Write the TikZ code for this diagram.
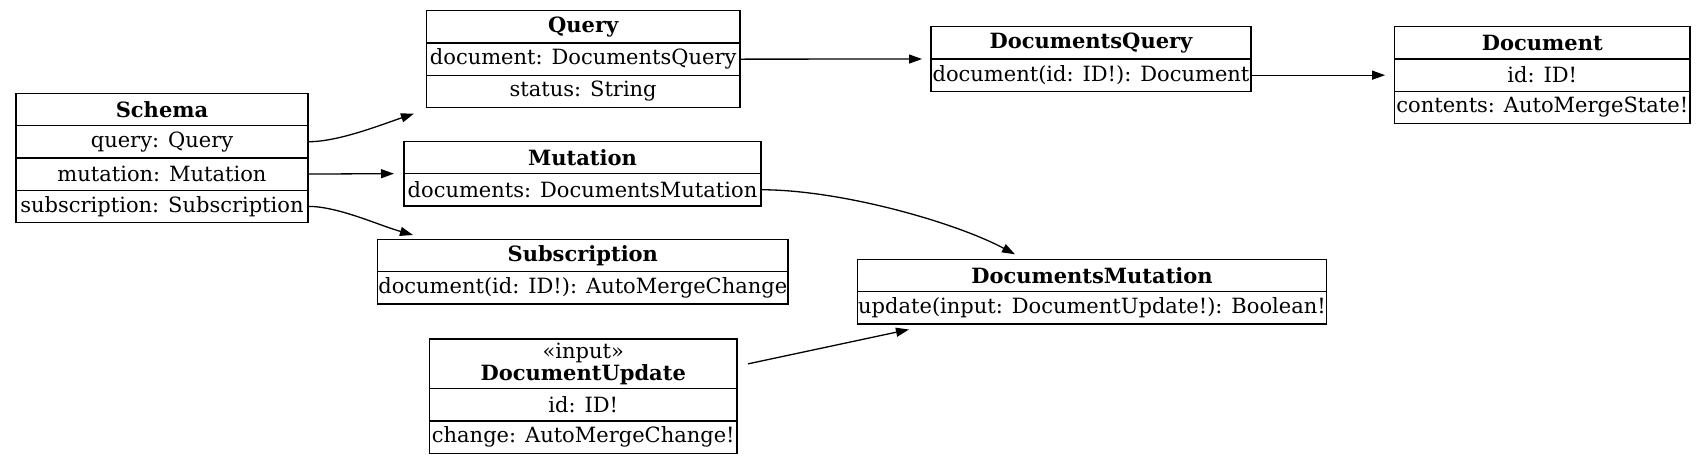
\documentclass[tikz,border=0pt]{standalone}
\usepackage{fontspec}
\setmainfont{DejaVu Serif}
\usepackage{tikz}
\usetikzlibrary{
  arrows.meta,
  positioning
}
\tikzset{
    recordrow/.style={draw, line width=1.3pt, minimum width=#1, minimum height=32.3pt,
        inner sep=0pt, outer sep=0pt, anchor=north, align=center,
        font=\fontsize{21}{22}\selectfont},
    recordhead/.style={recordrow=#1, font=\fontsize{21}{22}\selectfont\bfseries},
    link/.style={-{Triangle[length=13pt,width=9pt]}, line width=1.3pt}
}

\begin{document}
\begin{tikzpicture}[x=1pt, y=-1pt]
    \useasboundingbox (0,0) rectangle (1707,464);

    % Schema
    \node[recordhead=292pt] (schema) at (162,93.3) {Schema};
    \node[recordrow=292pt, below=0pt of schema] (schema-query) {query: Query};
    \node[recordrow=292pt, below=0pt of schema-query] (schema-mutation) {mutation: Mutation};
    \node[recordrow=292pt, below=0pt of schema-mutation] (schema-subscription) {subscription: Subscription};

    % Query
    \node[recordhead=313.5pt] (query) at (583.2,10.7) {Query};
    \node[recordrow=313.5pt, below=0pt of query] (query-document) {document: DocumentsQuery};
    \node[recordrow=313.5pt, below=0pt of query-document] (query-status) {status: String};

    % Mutation
    \node[recordhead=357pt] (mutation) at (582.5,141.3) {Mutation};
    \node[recordrow=357pt, below=0pt of mutation] (mutation-documents) {documents: DocumentsMutation};

    % Subscription
    \node[recordhead=410.4pt] (subscription) at (582.8,239.3) {Subscription};
    \node[recordrow=410.4pt, below=0pt of subscription] (subscription-document) {document(id: ID!): AutoMergeChange};

    % DocumentUpdate
    \node[recordrow=307.4pt, minimum height=49.7pt] (docupdate) at (583.3,339) {«input»\\\textbf{DocumentUpdate}};
    \node[recordrow=307.4pt, below=0pt of docupdate] (docupdate-id) {id: ID!};
    \node[recordrow=307.4pt, below=0pt of docupdate-id] (docupdate-change) {change: AutoMergeChange!};

    % DocumentsQuery
    \node[recordhead=320pt] (docsquery) at (1091,26.7) {DocumentsQuery};
    \node[recordrow=320pt, below=0pt of docsquery] (docsquery-document) {document(id: ID!): Document};

    % Document
    \node[recordhead=295.4pt] (document) at (1542.3,26.7) {Document};
    \node[recordrow=295.4pt, below=0pt of document] (document-id) {id: ID!};
    \node[recordrow=295.4pt, below=0pt of document-id] (document-contents) {contents: AutoMergeState!};

    % DocumentsMutation
    \node[recordhead=468.5pt] (docsmutation) at (1092,259.3) {DocumentsMutation};
    \node[recordrow=468.5pt, below=0pt of docsmutation] (docsmutation-update) {update(input: DocumentUpdate!): Boolean!};

    % links
    \draw[link] (schema-query.east) .. controls +(30,0) and +(-35,12) .. ([xshift=-12.5pt,yshift=-6pt]query-status.south west);
    \draw[link, shorten >=10pt] (schema-mutation.east) -- (mutation.south west);
    \draw[link] (schema-subscription.east) .. controls +(30,0) and +(-35,-10) .. ([xshift=35.4pt,yshift=4.3pt]subscription.north west);
    \draw[link, shorten >=9pt] (query-document.east) -- (docsquery.south west);
    \draw[link, shorten >=9.5pt] (docsquery-document.east) -- (document-id.west);
    \draw[link] (mutation-documents.east) .. controls +(80,0) and +(-60,-32) .. ([xshift=-77pt,yshift=5pt]docsmutation.north);
    \draw[link] ([xshift=11pt]docupdate.east) -- ([xshift=51.2pt,yshift=-5.6pt]docsmutation-update.south west);
\end{tikzpicture}
\end{document}
